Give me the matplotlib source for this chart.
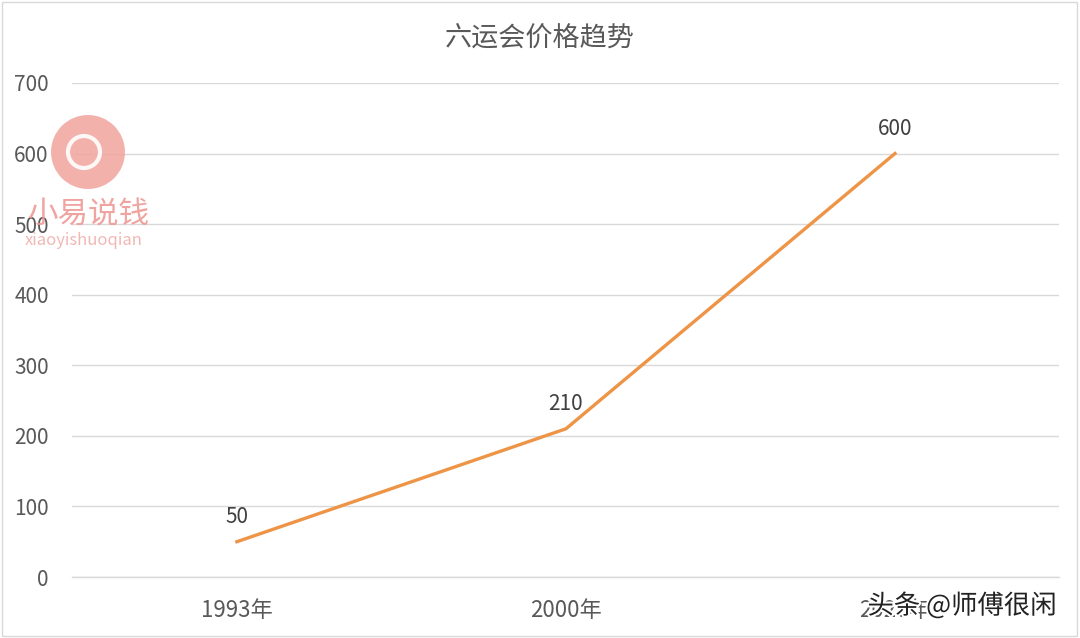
import matplotlib
matplotlib.use("Agg")
import matplotlib.pyplot as plt
import matplotlib.patheffects as pe
from matplotlib.patches import Ellipse, Rectangle

plt.rcParams['font.family'] = ['Noto Sans CJK SC', 'DejaVu Sans']

# data
years = ['1993年', '2000年', '2020年']
prices = [50, 210, 600]
title = '六运会价格趋势'

W, H = 1080, 638
fig = plt.figure(figsize=(W / 100, H / 100), dpi=100)
ax = fig.add_axes([0.067, 0.0956, 0.914, 0.7744])

x = list(range(len(years)))
ax.plot(x, prices, color='#EE9446', linewidth=2.4, solid_joinstyle='miter')
for xi, v in zip(x, prices):
    ax.annotate(str(v), (xi, v), xytext=(0, 10), textcoords='offset points',
                ha='center', va='bottom', fontsize=15, color='#404040')

ax.set_xlim(-0.5, len(years) - 0.5)
ax.set_ylim(0, 700)
ax.set_yticks(range(0, 701, 100))
ax.set_xticks(x)
ax.set_xticklabels(years)
ax.grid(axis='y', color='#D9D9D9', linewidth=1)
ax.axhline(0, color='#D9D9D9', linewidth=1, clip_on=False, zorder=0)
ax.set_axisbelow(True)
for s in ax.spines.values():
    s.set_visible(False)
ax.tick_params(axis='both', length=0, colors='#595959', labelsize=15)
ax.tick_params(axis='y', pad=17)
ax.tick_params(axis='x', pad=16, labelsize=16)

fig.text(0.5, 1 - 38 / H, title, ha='center', va='center', fontsize=19.5, color='#595959')

# thin frame of the chart area
fig.patches.append(Rectangle((2 / W, 2 / H), 1 - 5 / W, 1 - 4 / H, transform=fig.transFigure,
                             facecolor='none', edgecolor='#D9D9D9', linewidth=1))

# watermark logo (top-left)
fig.patches.append(Ellipse((88 / W, 1 - 152 / H), 74 / W, 74 / H, transform=fig.transFigure,
                           facecolor='#F2A49E', edgecolor='none', alpha=0.85))
fig.patches.append(Ellipse((84 / W, 1 - 152 / H), 32 / W, 32 / H, transform=fig.transFigure,
                           facecolor='none', edgecolor='white', linewidth=3, alpha=0.9))
fig.text(88 / W, 1 - 215 / H, '小易说钱', ha='center', va='center',
         fontsize=22, color='#EE9A96', alpha=0.9)
fig.text(84 / W, 1 - 241 / H, 'xiaoyishuoqian', ha='center', va='center',
         fontsize=12, color='#F0B0AC', alpha=0.9)

# watermark bottom-right
fig.text(962 / W, 1 - 606 / H, '头条 @师傅很闲', ha='center', va='center',
         fontsize=19, color='#222222',
         path_effects=[pe.withStroke(linewidth=3, foreground='white')])

fig.savefig('out.png', dpi=100)
